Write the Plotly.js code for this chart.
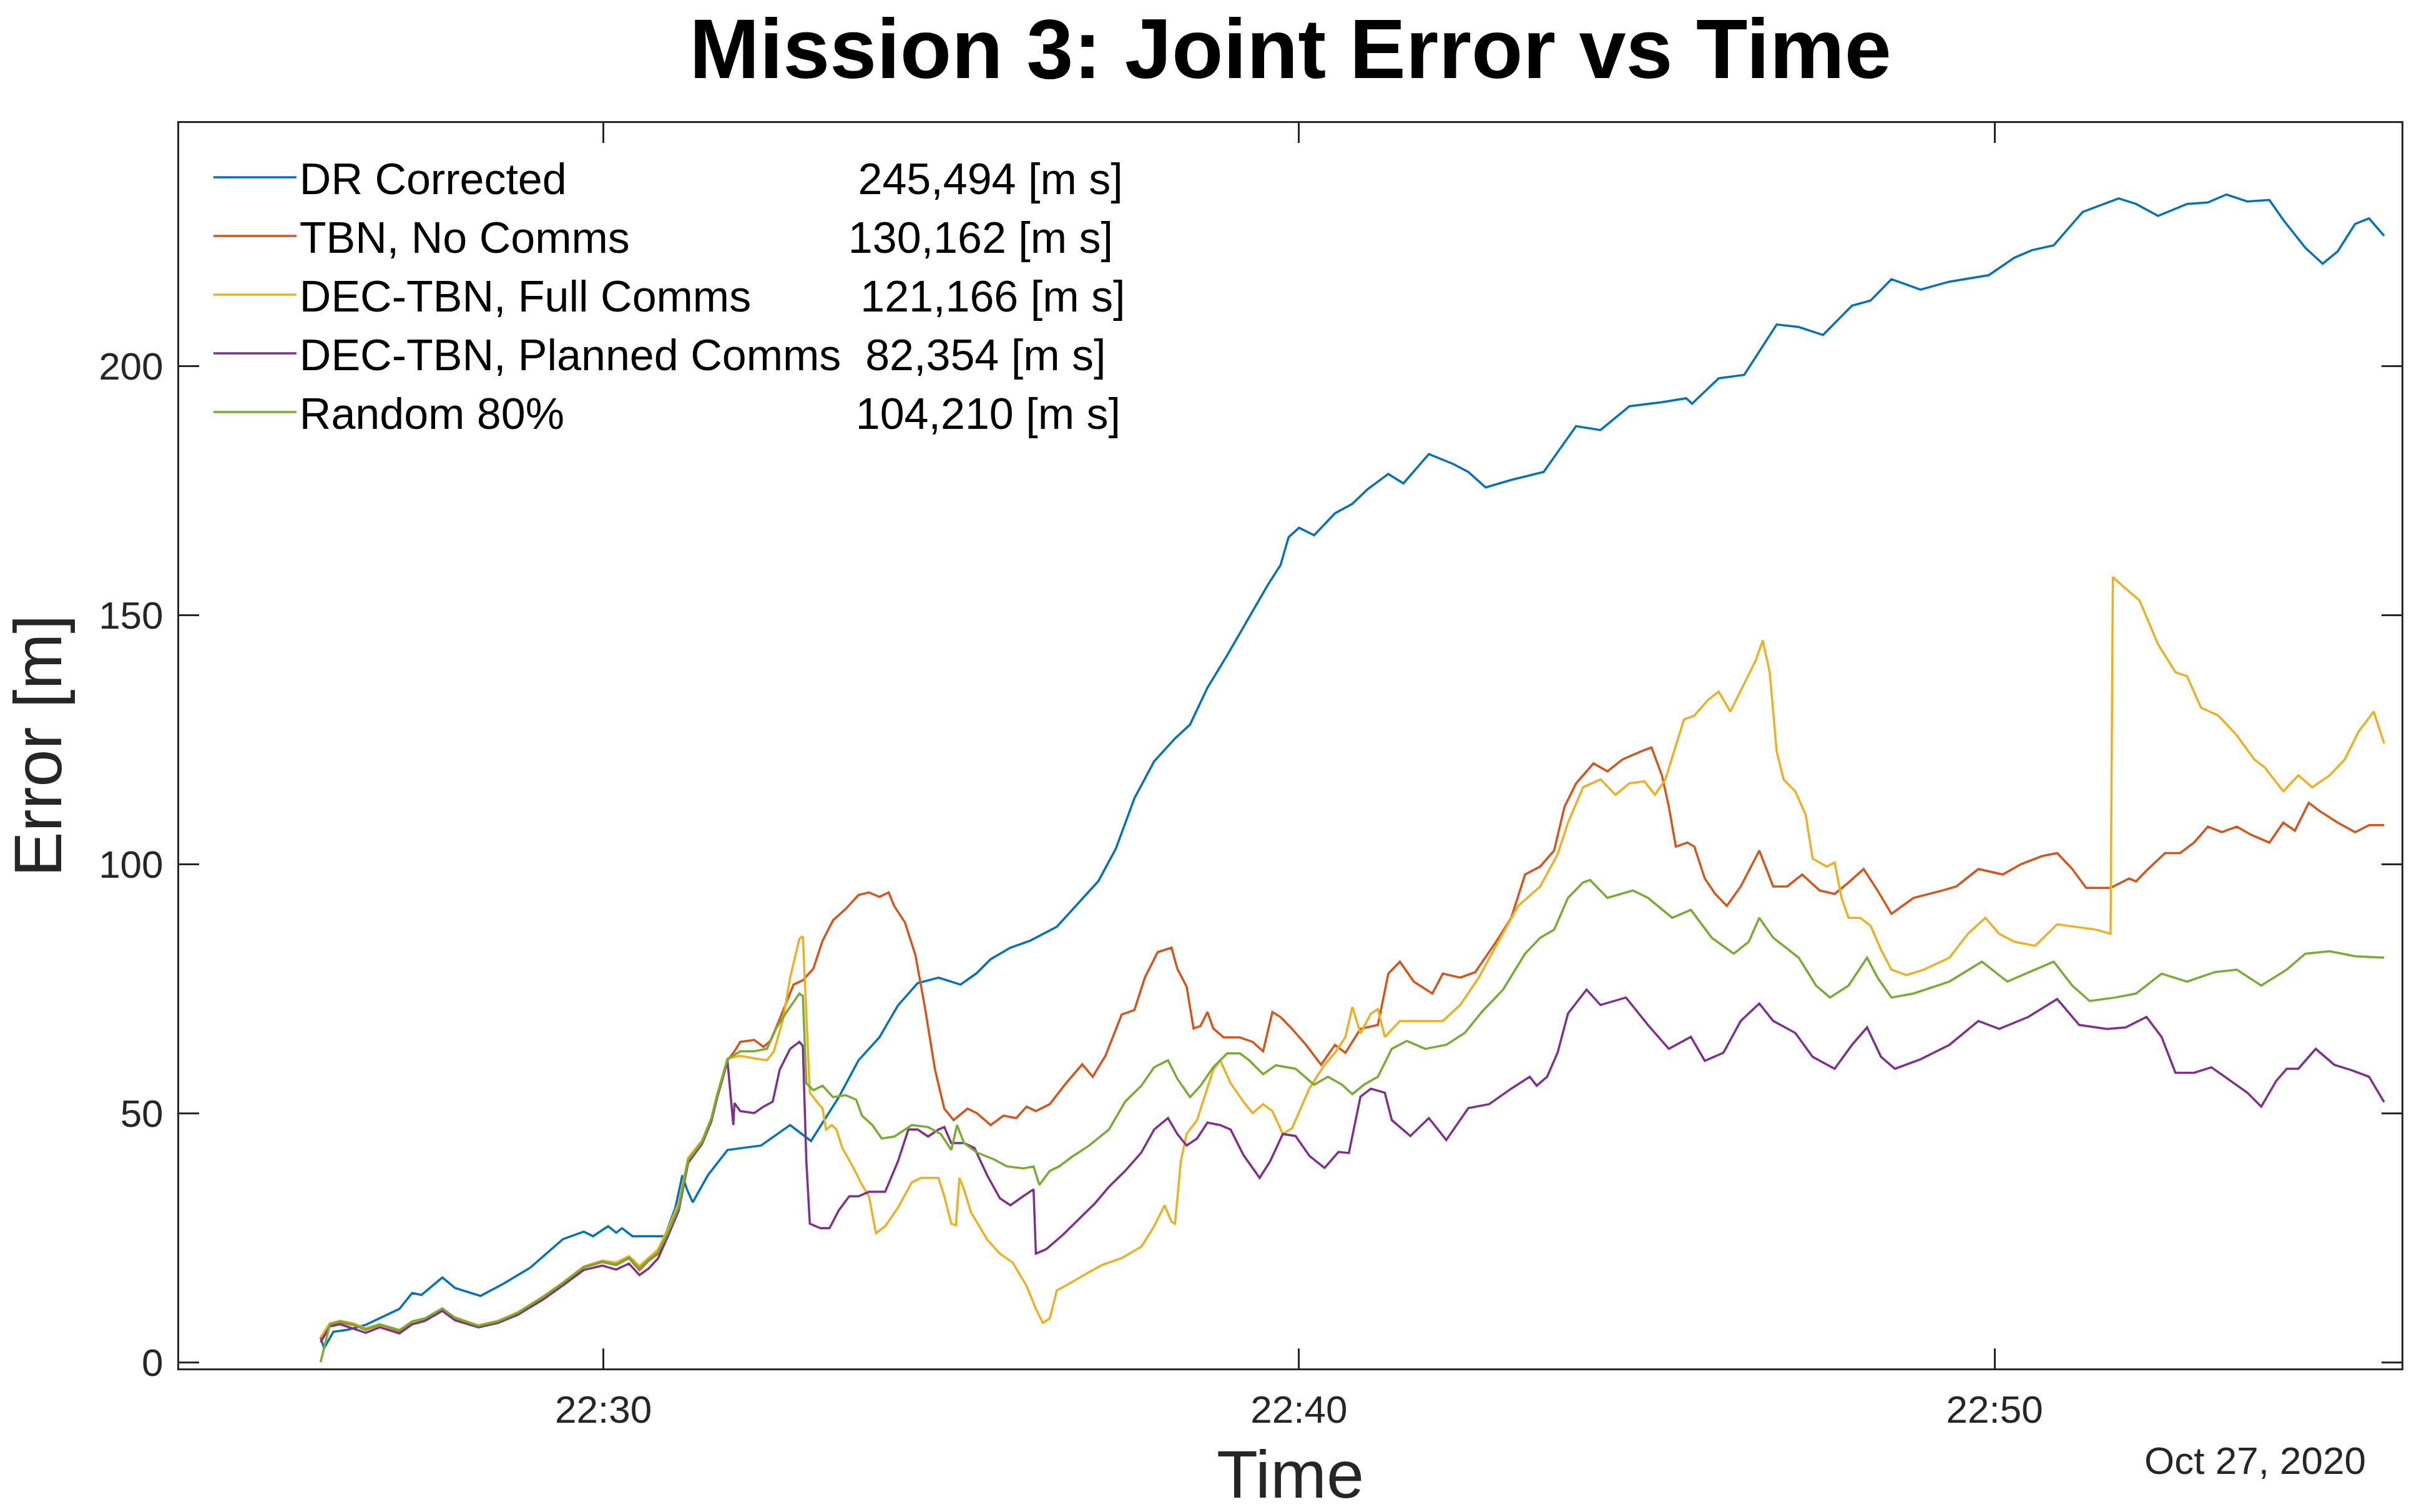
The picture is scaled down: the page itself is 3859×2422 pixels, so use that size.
<!DOCTYPE html>
<html>
<head>
<meta charset="utf-8">
<script src="https://cdn.plot.ly/plotly-3.0.1.min.js"></script>
<style>
  html, body { margin: 0; padding: 0; background: #ffffff; }
  #chart { width: 3859px; height: 2422px; }
</style>
</head>
<body>
<div id="chart"></div>
<script>
// ---------------- DATA (time = minutes after 22:00 on Oct 27, 2020; error in metres) ----------------
const chartDate = '2020-10-27';
const seriesLabels = ['DR Corrected', 'TBN, No Comms', 'DEC-TBN, Full Comms', 'DEC-TBN, Planned Comms', 'Random 80%'];
const seriesTotals = ['245,494 [m s]', '130,162 [m s]', '121,166 [m s]', '82,354 [m s]', '104,210 [m s]'];
const xTickLabels = ['22:30', '22:40', '22:50'];
const xTickMinutes = [30, 40, 50];
const yTickValues = [0, 50, 100, 150, 200];

const drTime = [25.93,25.98,26.12,26.31,26.59,26.78,27.06,27.25,27.39,27.68,27.87,28.24,28.57,28.95,29.42,29.71,29.85,30.06,30.18,30.27,30.42,30.65,30.89,31.03,31.14,31.20,31.29,31.50,31.78,32.26,32.68,32.99,33.39,33.67,33.96,34.24,34.52,34.81,35.14,35.37,35.56,35.85,36.13,36.51,36.79,37.12,37.36,37.64,37.92,38.21,38.44,38.68,38.96,39.30,39.55,39.74,39.85,40.00,40.21,40.52,40.77,40.98,41.29,41.50,41.86,42.22,42.43,42.69,43.05,43.51,43.98,44.34,44.75,45.22,45.56,45.65,46.04,46.40,46.87,47.18,47.54,47.95,48.21,48.52,48.94,49.35,49.92,50.28,50.54,50.85,51.26,51.78,52.04,52.35,52.76,53.07,53.33,53.64,53.95,54.15,54.46,54.72,54.93,55.19,55.39,55.60];
const drError = [5.0,2.8,6.1,6.5,7.5,8.8,10.7,13.9,13.5,17.0,14.9,13.3,15.8,19.0,24.7,26.2,25.3,27.3,26.0,26.9,25.3,25.3,25.3,31.0,37.5,34.7,32.1,37.5,42.6,43.5,47.6,44.4,53.2,60.6,65.2,71.6,76.1,77.2,75.8,78.1,80.9,83.2,84.6,87.4,91.5,96.6,103.1,113.2,120.6,125.2,128.0,135.4,141.9,150.0,156.0,160.0,165.6,167.5,166.0,170.4,172.3,175.2,178.3,176.4,182.3,180.3,178.7,175.6,177.1,178.7,187.9,187.1,191.9,192.7,193.5,192.4,197.5,198.2,208.3,207.8,206.2,212.1,213.1,217.4,215.3,216.9,218.2,221.7,223.2,224.2,230.9,233.6,232.5,230.1,232.5,232.8,234.4,233.0,233.3,229.3,223.7,220.5,223.0,228.5,229.6,226.1];

const tbnTime = [25.93,26.07,26.21,26.40,26.59,26.78,27.06,27.25,27.44,27.68,27.87,28.20,28.48,28.76,29.14,29.42,29.71,29.99,30.18,30.37,30.51,30.65,30.79,30.93,31.08,31.22,31.41,31.55,31.64,31.78,31.88,31.97,32.16,32.30,32.40,32.54,32.73,32.87,33.01,33.15,33.30,33.48,33.67,33.81,33.96,34.10,34.19,34.33,34.48,34.62,34.76,34.90,35.04,35.23,35.37,35.56,35.75,35.94,36.08,36.22,36.41,36.65,36.88,37.03,37.21,37.45,37.64,37.78,37.97,38.16,38.25,38.38,38.49,38.58,38.68,38.77,38.91,39.15,39.34,39.48,39.62,39.74,39.90,40.10,40.31,40.52,40.67,40.88,41.14,41.29,41.45,41.65,41.91,42.07,42.32,42.53,42.84,43.05,43.25,43.46,43.67,43.82,43.98,44.24,44.44,44.65,44.91,45.06,45.22,45.32,45.42,45.58,45.68,45.84,45.99,46.15,46.35,46.61,46.82,47.02,47.23,47.49,47.70,47.90,48.11,48.32,48.52,48.83,49.25,49.45,49.76,50.12,50.38,50.69,50.90,51.11,51.31,51.67,51.93,52.04,52.19,52.45,52.66,52.86,53.07,53.27,53.48,53.69,53.95,54.15,54.31,54.51,54.67,54.93,55.19,55.39,55.60];
const tbnError = [4.5,7.5,8.0,7.5,6.5,7.5,6.3,8.1,8.7,10.7,8.8,7.2,8.1,9.8,13.0,15.8,19.0,20.1,19.5,20.9,18.5,20.4,21.8,26.0,31.0,40.3,44.0,48.6,53.2,60.6,62.4,64.3,64.7,63.3,64.5,68.9,75.8,76.7,79.0,84.6,88.7,91.0,93.8,94.3,93.4,94.3,91.5,88.3,81.8,71.6,58.7,50.9,48.6,50.9,50.0,47.6,49.5,49.0,51.3,50.4,51.8,56.0,59.8,57.3,61.5,69.8,70.7,77.2,82.3,83.2,79.0,75.4,67.0,67.5,70.3,67.0,65.2,65.2,64.3,62.4,70.3,69.3,66.9,63.7,59.7,63.7,62.1,66.9,67.7,78.0,80.4,76.4,74.0,78.0,77.2,78.3,84.4,89.2,97.9,99.5,102.7,111.5,116.2,120.2,118.6,121.0,122.6,123.4,117.8,111.5,103.5,104.3,103.5,97.1,94.0,91.6,95.5,102.7,95.5,95.5,97.9,94.7,94.0,96.3,99.0,94.7,90.0,93.2,94.7,95.5,99.0,97.9,100.0,101.6,102.2,99.0,95.2,95.2,97.1,96.5,98.7,102.2,102.2,104.3,107.5,106.4,107.5,105.9,104.3,108.3,106.7,112.3,110.7,108.3,106.4,107.8,107.8];

const fullTime = [25.93,26.07,26.21,26.40,26.59,26.78,27.06,27.25,27.44,27.68,27.87,28.20,28.48,28.76,29.14,29.42,29.71,29.99,30.18,30.37,30.51,30.65,30.79,30.93,31.08,31.22,31.41,31.55,31.64,31.78,31.97,32.16,32.35,32.45,32.59,32.68,32.76,32.82,32.87,32.92,32.97,33.06,33.15,33.20,33.28,33.35,33.44,33.58,33.72,33.81,33.91,34.05,34.24,34.43,34.57,34.81,34.90,35.00,35.06,35.11,35.18,35.28,35.51,35.70,35.89,36.08,36.22,36.32,36.41,36.51,36.70,36.98,37.17,37.45,37.73,37.92,38.06,38.16,38.22,38.30,38.39,38.54,38.68,38.77,38.87,39.01,39.20,39.34,39.48,39.62,39.76,39.90,40.15,40.36,40.52,40.67,40.77,40.88,41.03,41.14,41.24,41.45,41.81,42.07,42.32,42.58,42.84,43.15,43.46,43.72,43.87,44.08,44.34,44.55,44.75,44.96,45.11,45.27,45.53,45.68,45.89,46.04,46.20,46.40,46.56,46.66,46.77,46.87,46.97,47.13,47.28,47.39,47.59,47.70,47.80,47.90,48.06,48.21,48.37,48.52,48.73,48.99,49.35,49.61,49.87,50.07,50.28,50.59,50.90,51.21,51.47,51.67,51.70,51.88,52.09,52.35,52.60,52.76,52.96,53.22,53.48,53.74,53.89,54.15,54.36,54.57,54.82,55.03,55.24,55.45,55.60];
const fullError = [5.0,7.8,8.3,7.8,6.8,7.6,6.5,8.0,8.6,10.5,9.0,7.4,8.3,10.0,13.2,16.0,19.2,20.4,20.0,21.3,19.3,21.0,22.6,27.0,32.0,41.0,44.5,49.0,53.8,61.0,61.5,61.0,60.6,62.4,68.9,77.2,81.8,85.0,85.5,69.8,54.1,52.3,50.9,46.7,47.6,46.7,43.0,39.3,35.6,33.3,25.9,27.3,31.0,36.1,37.0,37.0,33.3,27.8,27.5,37.0,34.7,30.1,24.6,21.8,20.0,15.3,10.7,7.9,8.8,14.4,15.8,18.1,19.5,20.9,23.2,27.3,31.5,28.2,27.8,40.3,45.8,48.6,55.0,58.7,60.6,56.0,52.3,50.0,51.8,50.4,45.8,47.0,55.0,59.7,62.1,65.3,71.3,66.0,70.0,70.9,65.3,68.5,68.5,68.5,71.7,77.2,83.6,91.6,95.5,101.9,108.3,115.4,117.0,113.9,116.2,116.6,113.9,117.0,129.0,129.8,133.0,134.6,130.6,136.1,140.9,144.9,138.5,122.6,117.0,114.6,109.9,101.1,99.5,100.3,93.2,89.2,89.2,87.6,82.8,78.8,77.7,78.8,81.2,86.0,89.2,86.0,84.4,83.6,87.9,87.3,86.8,86.0,157.6,155.3,152.9,144.1,138.5,137.7,131.4,129.8,125.8,121.0,119.4,114.6,117.8,115.4,117.8,121.0,126.6,130.6,124.2];

const plannedTime = [25.93,26.07,26.21,26.40,26.59,26.78,27.06,27.25,27.44,27.68,27.87,28.20,28.48,28.76,29.14,29.42,29.71,29.99,30.18,30.37,30.51,30.65,30.79,30.93,31.08,31.22,31.41,31.55,31.64,31.78,31.86,31.88,31.97,32.16,32.30,32.43,32.54,32.68,32.82,32.87,32.92,32.97,33.11,33.25,33.39,33.53,33.67,33.81,34.05,34.24,34.38,34.52,34.66,34.81,34.90,35.00,35.18,35.33,35.51,35.70,35.85,36.03,36.18,36.22,36.36,36.60,36.84,37.07,37.26,37.50,37.73,37.92,38.11,38.25,38.39,38.54,38.68,38.87,39.01,39.20,39.43,39.58,39.76,39.95,40.15,40.36,40.57,40.72,40.88,41.03,41.24,41.34,41.60,41.86,42.12,42.43,42.74,43.05,43.31,43.41,43.56,43.72,43.87,44.13,44.34,44.70,45.01,45.32,45.63,45.84,46.10,46.35,46.61,46.82,47.13,47.39,47.70,47.95,48.16,48.37,48.57,48.94,49.35,49.76,50.07,50.49,50.90,51.21,51.62,51.88,52.19,52.40,52.60,52.86,53.12,53.38,53.64,53.84,54.05,54.20,54.36,54.62,54.88,55.14,55.39,55.60];
const plannedError = [4.0,7.2,7.6,6.8,5.9,7.0,5.8,7.6,8.3,10.3,8.4,7.0,7.9,9.5,12.6,15.4,18.5,19.4,18.6,19.8,17.5,18.8,20.8,25.5,30.5,40.0,43.8,48.3,53.0,60.4,47.6,52.0,50.4,50.0,51.3,52.3,58.7,62.9,64.3,63.5,40.3,27.8,26.9,26.9,30.5,33.3,33.3,34.2,34.2,40.3,46.7,46.7,45.3,46.7,47.2,44.0,44.0,43.0,37.5,32.9,31.5,33.3,34.7,21.8,22.7,25.5,28.7,31.9,35.2,38.4,42.1,46.7,49.0,45.8,43.5,44.9,48.1,47.6,46.7,41.6,37.0,40.3,45.8,45.4,41.4,39.0,42.2,42.0,53.3,54.9,54.1,48.6,45.4,49.0,44.6,51.0,51.8,54.9,57.3,55.5,57.3,62.1,70.0,74.8,71.7,73.2,67.7,62.9,65.3,60.5,62.1,68.5,72.0,68.5,66.1,61.3,58.9,63.7,67.2,61.3,58.9,60.8,63.7,68.5,66.9,69.3,72.9,67.7,66.9,67.2,69.3,65.3,58.1,58.1,59.2,56.5,54.1,51.3,56.5,58.9,58.9,62.9,59.7,58.6,57.3,52.2];

const randomTime = [25.93,26.07,26.21,26.40,26.59,26.78,27.06,27.25,27.44,27.68,27.87,28.20,28.48,28.76,29.14,29.42,29.71,29.99,30.18,30.37,30.51,30.65,30.79,30.93,31.08,31.22,31.41,31.55,31.64,31.78,31.97,32.16,32.35,32.49,32.63,32.82,32.87,32.92,33.01,33.15,33.30,33.48,33.63,33.72,33.86,34.00,34.19,34.43,34.66,34.85,35.00,35.09,35.18,35.37,35.61,35.80,36.03,36.18,36.27,36.41,36.55,36.74,36.98,37.26,37.50,37.73,37.92,38.11,38.25,38.44,38.58,38.77,38.96,39.15,39.29,39.48,39.67,39.95,40.21,40.41,40.62,40.77,40.93,41.14,41.34,41.55,41.81,42.12,42.38,42.63,42.94,43.25,43.46,43.67,43.87,44.08,44.18,44.44,44.80,45.01,45.37,45.63,45.94,46.25,46.46,46.61,46.82,47.18,47.44,47.64,47.90,48.16,48.32,48.52,48.83,49.35,49.81,50.18,50.59,50.85,51.11,51.36,51.73,52.04,52.40,52.76,53.17,53.48,53.84,54.20,54.46,54.82,55.19,55.60];
const randomError = [0.0,7.6,8.2,7.6,6.6,7.6,6.4,8.2,8.8,10.8,8.9,7.3,8.2,9.9,13.1,15.9,19.1,20.2,19.6,21.0,18.8,20.6,22.0,26.2,31.2,40.5,44.2,48.8,53.4,60.8,62.4,62.4,62.9,67.0,70.3,74.0,73.5,56.0,54.6,55.5,53.2,53.6,52.7,49.5,47.6,44.9,45.3,47.6,47.2,45.8,42.6,47.6,44.0,42.1,40.7,39.3,38.9,39.3,35.6,38.4,39.3,41.2,43.5,46.7,52.3,55.5,59.2,60.6,56.9,53.2,55.5,59.2,62.0,62.0,60.6,57.8,59.6,58.9,55.7,57.3,55.7,53.8,55.7,57.3,62.9,64.5,62.9,63.7,66.1,70.4,74.8,82.0,85.2,86.8,93.2,96.3,96.8,93.2,94.7,93.2,89.2,90.8,85.2,82.0,84.4,89.2,85.2,81.2,75.6,73.2,75.6,81.2,77.2,73.2,74.0,76.4,80.4,76.4,78.8,80.4,75.6,72.5,73.2,74.0,78.0,76.4,78.3,78.8,75.6,78.8,82.0,82.5,81.5,81.2];

// ---------------- STYLE ----------------
const seriesColors = ['#0072BD', '#D95319', '#EDB120', '#7E2F8E', '#77AC30'];
const legendPadSpaces = [24, 18, 9, 2, 24];   // visual gap between label and total, as in the original legend
const FONT = '"Liberation Sans", Arial, Helvetica, sans-serif';
const AXC = '#262626';

function toStamp(minAfter22) {
  const totalSec = Math.round(minAfter22 * 60);
  const mm = Math.floor(totalSec / 60);
  const ss = totalSec - mm * 60;
  return chartDate + ' 22:' + String(mm).padStart(2, '0') + ':' + String(ss).padStart(2, '0');
}

const times = [drTime, tbnTime, fullTime, plannedTime, randomTime];
const errors = [drError, tbnError, fullError, plannedError, randomError];

const traces = seriesLabels.map((lab, i) => ({
  type: 'scatter',
  mode: 'lines',
  x: times[i].map(toStamp),
  y: errors[i],
  name: lab + '\u00A0'.repeat(legendPadSpaces[i]) + seriesTotals[i],
  line: { color: seriesColors[i], width: 3.5 },
  hoverinfo: 'x+y+name'
}));

const layout = {
  width: 3859,
  height: 2422,
  paper_bgcolor: '#ffffff',
  plot_bgcolor: '#ffffff',
  margin: { l: 287, r: 12, t: 197, b: 230, pad: 0 },
  font: { family: FONT, color: AXC, size: 62 },
  title: {
    text: '<b>Mission 3: Joint Error vs Time</b>',
    font: { family: FONT, size: 135, color: '#000000' },
    x: 0.5, xref: 'paper', xanchor: 'center',
    y: 0.968, yref: 'container', yanchor: 'middle'
  },
  xaxis: {
    type: 'date',
    range: [toStamp(23.896), toStamp(55.85)],
    tickvals: xTickMinutes.map(toStamp),
    ticktext: xTickLabels,
    showline: true, linecolor: AXC, linewidth: 3, mirror: 'ticks',
    ticks: 'inside', ticklen: 32, tickwidth: 3, tickcolor: AXC,
    showgrid: false, zeroline: false,
    tickfont: { family: FONT, size: 62, color: AXC },
    ticklabelstandoff: 10,
    title: { text: 'Time', font: { family: FONT, size: 108, color: AXC }, standoff: 45 },
    automargin: false
  },
  yaxis: {
    range: [-1.25, 248.75],
    tickvals: yTickValues,
    ticktext: yTickValues.map(String),
    showline: true, linecolor: AXC, linewidth: 3, mirror: 'ticks',
    ticks: 'inside', ticklen: 32, tickwidth: 3, tickcolor: AXC,
    showgrid: false, zeroline: false,
    tickfont: { family: FONT, size: 62, color: AXC },
    ticklabelstandoff: 10,
    title: { text: 'Error [m]', font: { family: FONT, size: 108, color: AXC }, standoff: 25 },
    automargin: false
  },
  showlegend: true,
  legend: {
    x: 0.014, y: 0.9825, xanchor: 'left', yanchor: 'top',
    bgcolor: 'rgba(255,255,255,0)', borderwidth: 0,
    font: { family: FONT, size: 70, color: '#000000' },
    itemwidth: 133, tracegroupgap: 0, traceorder: 'normal'
  },
  annotations: [{
    text: 'Oct 27, 2020',
    xref: 'paper', yref: 'paper',
    x: 0.9846, y: -0.0737, xanchor: 'right', yanchor: 'middle',
    showarrow: false,
    font: { family: FONT, size: 62, color: AXC }
  }]
};

Plotly.newPlot('chart', traces, layout, { displayModeBar: false, responsive: false });
</script>
</body>
</html>
